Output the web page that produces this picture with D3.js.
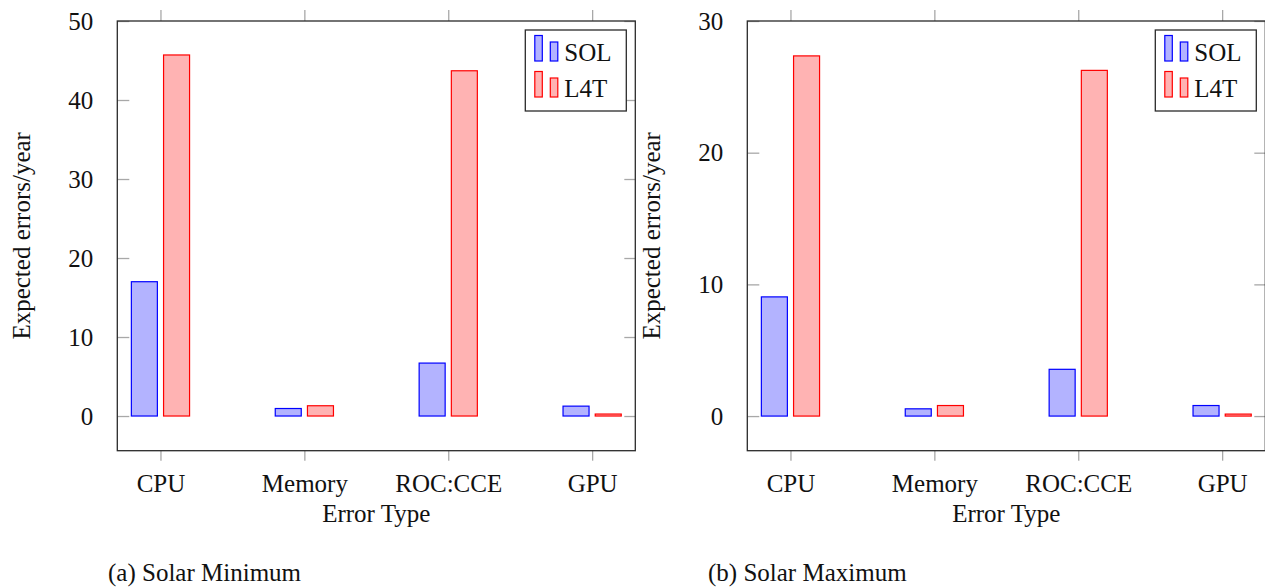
<!DOCTYPE html>
<html>
<head>
<meta charset="utf-8">
<script src="https://cdn.jsdelivr.net/npm/d3@7"></script>
</head>
<body style="margin:0">
<svg id="s" width="1265" height="588" font-family="Liberation Serif"></svg>
<script>
// ---- data ----
const categories = ["CPU", "Memory", "ROC:CCE", "GPU"];
const seriesNames = ["SOL", "L4T"];
const solMin = [17.0, 0.95, 6.7, 1.25];
const l4tMin = [45.7, 1.3, 43.7, 0.25];
const solMax = [9.05, 0.55, 3.55, 0.8];
const l4tMax = [27.35, 0.8, 26.25, 0.15];
const ticksMin = [0, 10, 20, 30, 40, 50];
const ticksMax = [0, 10, 20, 30];
const xLabel = "Error Type";
const yLabel = "Expected errors/year";
const captions = ["(a) Solar Minimum", "(b) Solar Maximum"];

const colors = {
  SOL: { fill: "#b3b3ff", stroke: "#0000ff" },
  L4T: { fill: "#ffb3b3", stroke: "#ff0000" }
};

const FS = 25;
const svg = d3.select("#s");

function styleText(sel) {
  return sel.style("font-family", "'Liberation Serif'").style("font-size", FS + "px").attr("fill", "#111");
}

function panel(cfg) {
  const { x0, x1, y0, y1, ymin, ymax, sol, l4t, ticks, caption, capX } = cfg;
  const g = svg.append("g");
  const x = d3.scaleLinear().domain([-0.3, categories.length - 1 + 0.3]).range([x0, x1]);
  const y = d3.scaleLinear().domain([ymin, ymax]).range([y1, y0]);
  const inner = d3.scaleBand().domain(seriesNames).range([-29.7, 29.7]).paddingInner(0.155);

  const yAx = g.append("g").attr("transform", `translate(${x0},0)`)
    .call(d3.axisLeft(y).tickValues(ticks).tickSize(-12).tickFormat(d3.format("d")).tickPadding(24));
  yAx.attr("font-family", null).attr("font-size", null);
  yAx.select(".domain").remove();
  yAx.selectAll("line").attr("stroke", "#a8a8a8").attr("stroke-width", 1.3);
  styleText(yAx.selectAll("text"));

  const yAx2 = g.append("g").attr("transform", `translate(${x1},0)`)
    .call(d3.axisRight(y).tickValues(ticks).tickSize(-11).tickFormat(""));
  yAx2.select(".domain").remove();
  yAx2.selectAll("line").attr("stroke", "#a8a8a8").attr("stroke-width", 1.3);

  const idx = categories.map((c, i) => i);
  const xAx = g.append("g").attr("transform", `translate(0,${y1})`)
    .call(d3.axisBottom(x).tickValues(idx).tickSize(10).tickFormat(i => categories[i]).tickPadding(14));
  xAx.attr("font-family", null).attr("font-size", null);
  xAx.select(".domain").remove();
  xAx.selectAll("line").attr("stroke", "#a8a8a8").attr("stroke-width", 1.3);
  styleText(xAx.selectAll("text"));

  const xAx2 = g.append("g").attr("transform", `translate(0,${y0})`)
    .call(d3.axisTop(x).tickValues(idx).tickSize(11).tickFormat(""));
  xAx2.select(".domain").remove();
  xAx2.selectAll("line").attr("stroke", "#a8a8a8").attr("stroke-width", 1.3);

  const rows = [];
  categories.forEach((c, i) => {
    rows.push({ i, s: "SOL", v: sol[i] });
    rows.push({ i, s: "L4T", v: l4t[i] });
  });
  const sw = 1.2;
  g.append("g").selectAll("rect").data(rows).join("rect")
    .attr("x", d => x(d.i) + inner(d.s) + sw / 2)
    .attr("width", inner.bandwidth() - sw)
    .attr("y", d => y(d.v))
    .attr("height", d => Math.max(0.01, y(0) - y(d.v)))
    .attr("fill", d => colors[d.s].fill)
    .attr("stroke", d => colors[d.s].stroke)
    .attr("stroke-width", sw);

  g.append("rect").attr("x", x0).attr("y", y0).attr("width", x1 - x0).attr("height", y1 - y0)
    .attr("fill", "none").attr("stroke", "#2a2a2a").attr("stroke-width", 1.3);

  styleText(g.append("text").attr("x", (x0 + x1) / 2).attr("y", 522).attr("text-anchor", "middle")).text(xLabel);
  styleText(g.append("text").attr("transform", `translate(${x0 - 87},${(y0 + y1) / 2}) rotate(-90)`)
    .attr("text-anchor", "middle")).text(yLabel);

  const lx1 = x1 - 9, lx0 = lx1 - 101, ly0 = 30, ly1 = 111;
  const lg = g.append("g");
  lg.append("rect").attr("x", lx0).attr("y", ly0).attr("width", lx1 - lx0).attr("height", ly1 - ly0)
    .attr("fill", "#fff").attr("stroke", "#2a2a2a").attr("stroke-width", 1.3);
  seriesNames.forEach((s, k) => {
    const base = 61 + k * 36;
    lg.append("rect").attr("x", lx0 + 9.5).attr("y", base - 25.5).attr("width", 7.5).attr("height", 25.5)
      .attr("fill", colors[s].fill).attr("stroke", colors[s].stroke).attr("stroke-width", sw);
    lg.append("rect").attr("x", lx0 + 25).attr("y", base - 19).attr("width", 7.5).attr("height", 19)
      .attr("fill", colors[s].fill).attr("stroke", colors[s].stroke).attr("stroke-width", sw);
    styleText(lg.append("text").attr("x", lx0 + 39).attr("y", base)).text(s);
  });

  styleText(svg.append("text").attr("x", capX).attr("y", 581)).text(caption);
}

panel({ x0: 117.3, x1: 635.3, y0: 21, y1: 450.7, ymin: -4.39, ymax: 50,
        sol: solMin, l4t: l4tMin, ticks: ticksMin, caption: captions[0], capX: 108 });
panel({ x0: 747.3, x1: 1265.3, y0: 21, y1: 450.7, ymin: -2.63, ymax: 30,
        sol: solMax, l4t: l4tMax, ticks: ticksMax, caption: captions[1], capX: 708 });
</script>
</body>
</html>
